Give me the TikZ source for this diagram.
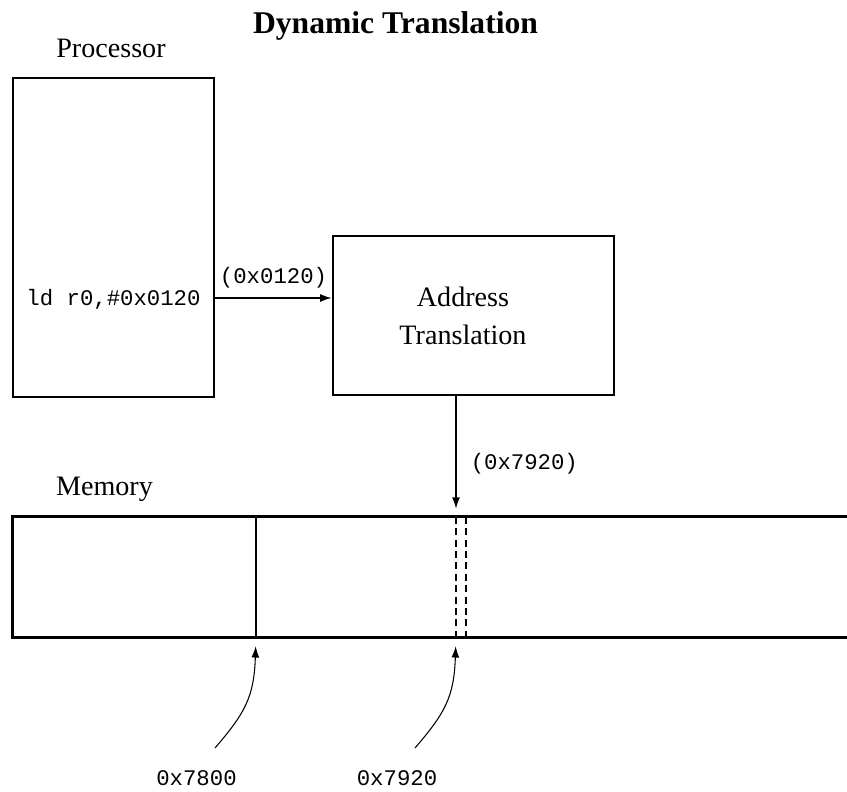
\documentclass[tikz,border=0pt]{standalone}
\usepackage{fontspec}
\setmainfont{Liberation Serif}
\setmonofont{Liberation Mono}
\usetikzlibrary{arrows.meta}

\begin{document}
\begin{tikzpicture}[x=0.02cm, y=-0.02cm, >={Latex[length=6.5pt, width=4.5pt]},
      box/.style={draw, line width=1.6pt, inner sep=0pt},
      lbl/.style={font=\fontsize{16}{21.6}\selectfont, anchor=base, inner sep=0pt},
      hex/.style={font=\ttfamily\fontsize{12.7}{15}\selectfont, inner sep=0pt},
      wire/.style={line width=0.8pt},
      ptr/.style={line width=0.6pt}]
    \useasboundingbox (0,0) rectangle (847,791);

    % === Title ===
    \node[font=\bfseries\fontsize{18}{22}\selectfont, anchor=base, inner sep=0pt] (title) at (395.5,33) {Dynamic Translation};

    % === Processor ===
    \node[box, minimum width=4.02cm, minimum height=6.38cm] (proc) at (113.5,237.5) {};
    \node[lbl] (proclbl) at (111,57) {Processor};
    \node[hex, anchor=base] (instr) at (113.5,305) {ld r0,\#0x0120};

    % === Address Translation ===
    \node[box, minimum width=5.62cm, minimum height=3.18cm] (xlat) at (473.5,315.5) {};
    \node[lbl, align=center, anchor=center] (xlatlbl) at (463,316) {Address\\Translation};

    % === Memory ===
    \node[minimum width=17.74cm, minimum height=2.4cm, inner sep=0pt] (mem) at (456.5,577) {};
    \draw[line width=1.6pt] (mem.north east) -- (mem.north west) -- (mem.south west) -- (mem.south east);
    \node[lbl] (memlbl) at (104.5,495) {Memory};
    \coordinate (m7800) at (256,577);
    \coordinate (m7920) at (456,577);
    \coordinate (m7920b) at (466,577);
    \draw[line width=0.7pt] (m7800 |- mem.north) -- (m7800 |- mem.south);
    \draw[line width=0.7pt, dash pattern=on 4pt off 2.5pt] (m7920 |- mem.north) -- (m7920 |- mem.south);
    \draw[line width=0.7pt, dash pattern=on 4pt off 2.5pt] (m7920b |- mem.north) -- (m7920b |- mem.south);

    % === Connectors ===
    \coordinate (pout) at (proc.east |- 0,298);
    \draw[wire, ->] (pout) -- (pout -| xlat.west) node[midway, above=5pt, hex] {(0x0120)};
    \coordinate (xout) at (xlat.south -| 456,0);
    \draw[wire, ->, shorten >=4.5pt] (xout) -- (xout |- mem.north) node[pos=0.56, right=8pt, hex] {(0x7920)};

    % === Address pointers ===
    \node[hex, anchor=base] (l7800) at (196.5,785) {0x7800};
    \node[hex, anchor=base] (l7920) at (397,785) {0x7920};
    \coordinate (p7800) at (215,748);
    \coordinate (p7920) at (415,748);
    \draw[ptr, ->, shorten >=5pt] (p7800) .. controls +(30,-35) and +(-2,60) .. (m7800 |- mem.south);
    \draw[ptr, ->, shorten >=5pt] (p7920) .. controls +(30,-35) and +(-2,60) .. (m7920 |- mem.south);
\end{tikzpicture}
\end{document}
